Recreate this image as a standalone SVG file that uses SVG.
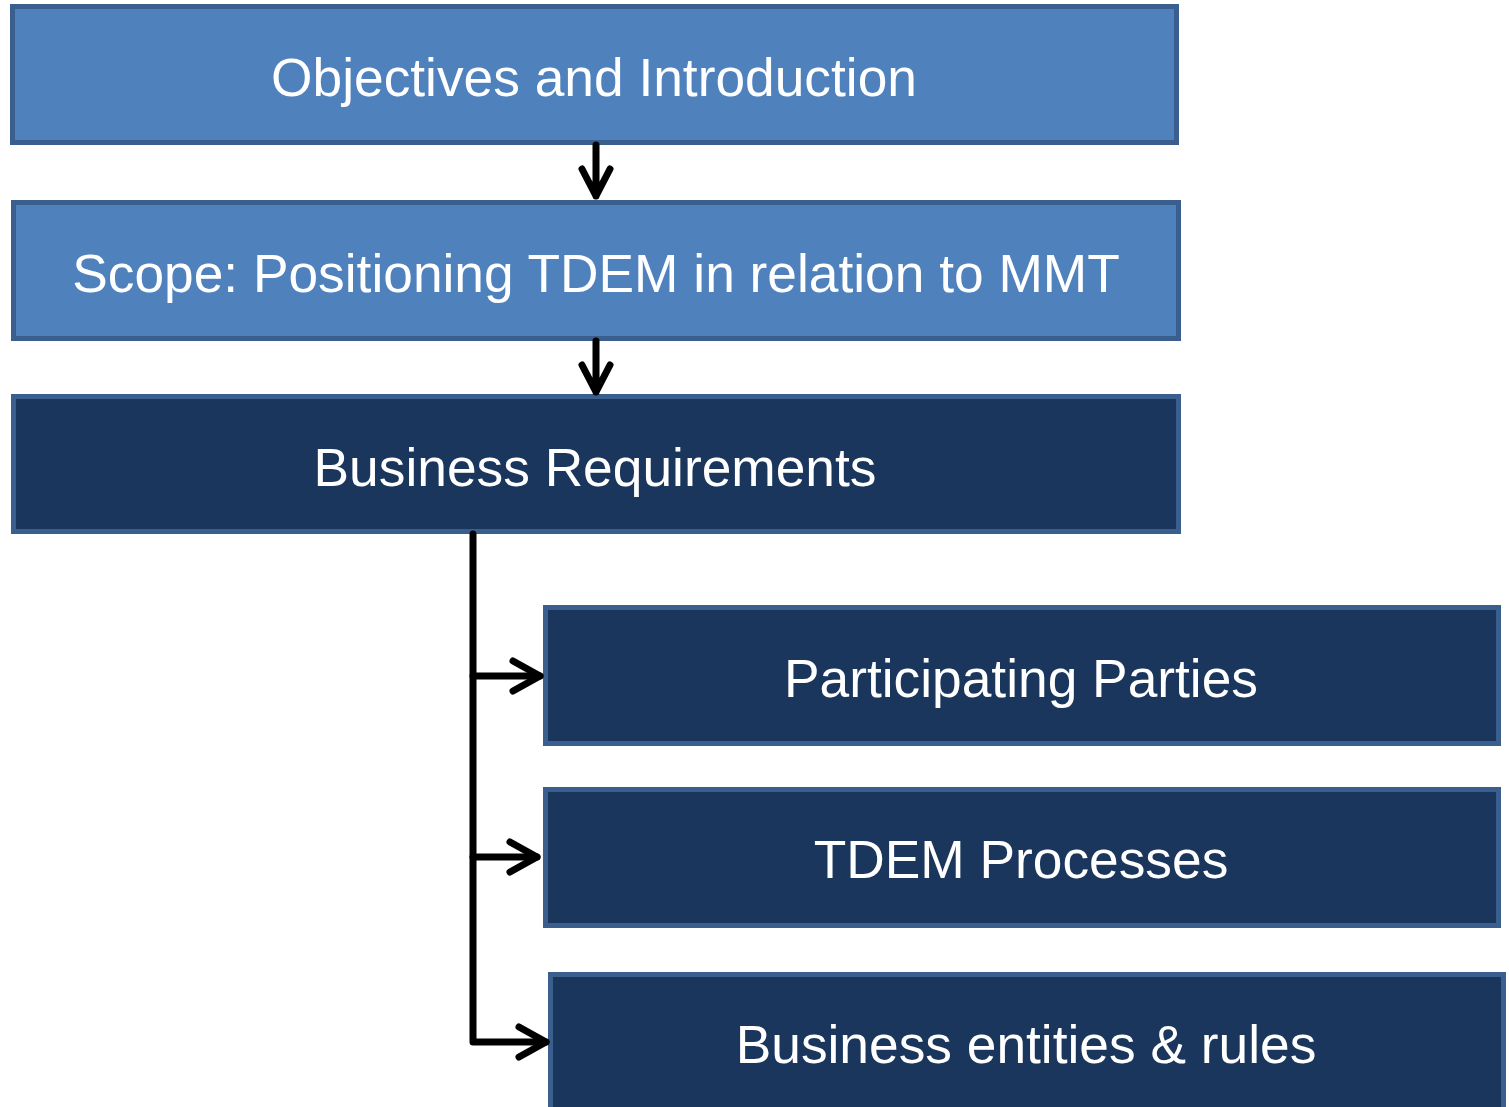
<svg xmlns="http://www.w3.org/2000/svg" width="1509" height="1107" viewBox="0 0 1509 1107">
<style>
.box{stroke:#3a5f8e;stroke-width:5}
.light{fill:#4f81bd}
.dark{fill:#1a365d}
.lbl{font-family:"Liberation Sans",Arial,sans-serif;font-size:53.3px;fill:#ffffff;text-anchor:middle}
.con{fill:none;stroke:#000;stroke-width:7;stroke-linecap:round;stroke-linejoin:round}
</style>
<rect width="1509" height="1107" fill="#ffffff"/>
<g id="n1"><rect class="box light" x="12.5" y="6.5" width="1164" height="136"/><text class="lbl" x="594" y="96">Objectives and Introduction</text></g>
<g id="n2"><rect class="box light" x="13.5" y="202.5" width="1165" height="136"/><text class="lbl" x="596" y="292">Scope: Positioning TDEM in relation to MMT</text></g>
<g id="n3"><rect class="box dark" x="13.5" y="396.5" width="1165" height="135"/><text class="lbl" x="595" y="486">Business Requirements</text></g>
<g id="n4"><rect class="box dark" x="545.5" y="607.5" width="953" height="136"/><text class="lbl" x="1021" y="697">Participating Parties</text></g>
<g id="n5"><rect class="box dark" x="545.5" y="789.5" width="953" height="136"/><text class="lbl" x="1021" y="878">TDEM Processes</text></g>
<g id="n6"><rect class="box dark" x="550.5" y="974.5" width="953" height="150"/><text class="lbl" x="1026" y="1063">Business entities &amp; rules</text></g>
<g id="connectors">
<path class="con" d="M596 145 V196 M582 169 L596 196 L610 169"/>
<path class="con" d="M596 341 V392 M582 365 L596 392 L610 365"/>
<path class="con" d="M473 534 V1042 H546"/>
<path class="con" d="M473 676 H540"/>
<path class="con" d="M473 857 H537"/>
<path class="con" d="M513 661 L540 676 L513 691"/>
<path class="con" d="M510 842 L537 857 L510 872"/>
<path class="con" d="M519 1027 L546 1042 L519 1057"/>
</g>
</svg>
